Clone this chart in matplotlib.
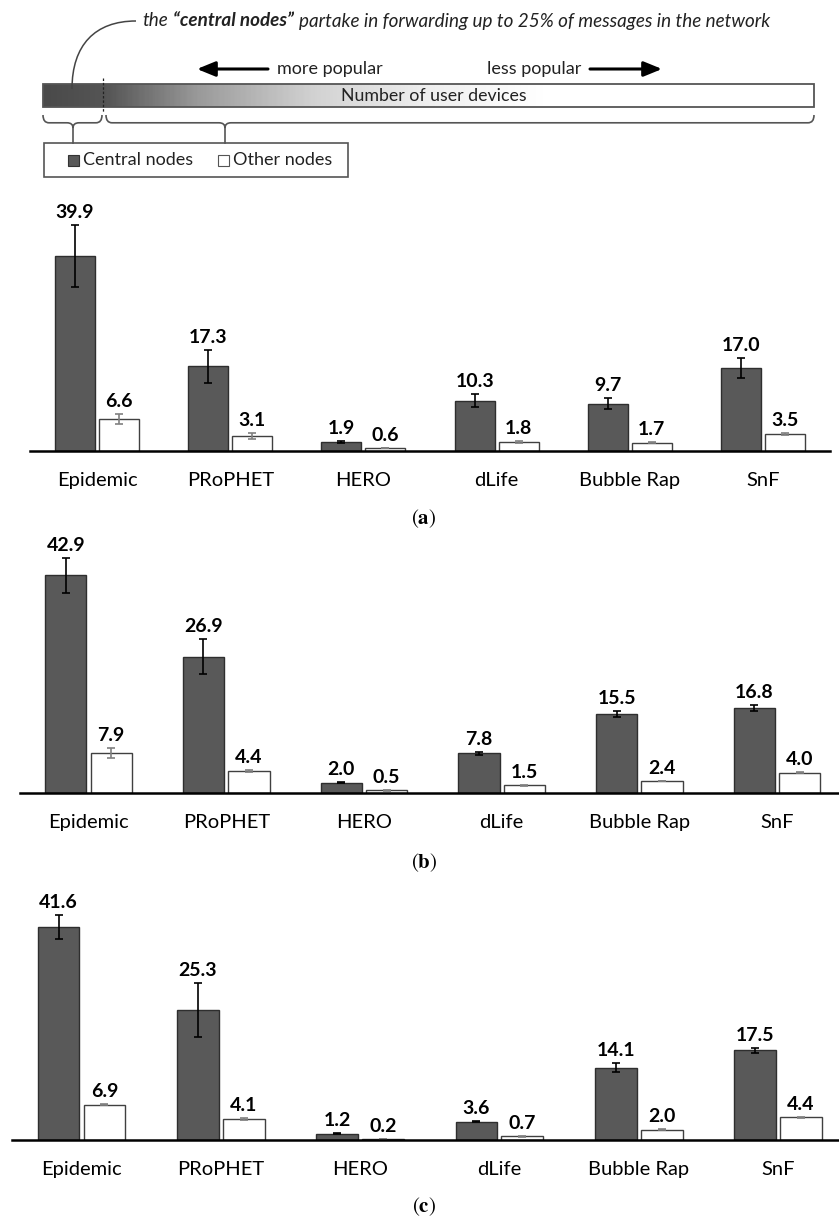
import matplotlib.pyplot as plt
import numpy as np
from matplotlib.patches import Rectangle, PathPatch
from matplotlib.path import Path
from matplotlib.colors import LinearSegmentedColormap

plt.rcParams['font.family'] = ['Lato', 'DejaVu Sans']
plt.rcParams['mathtext.fontset'] = 'stix'

# routing protocols on the x axis
protocols = ["Epidemic", "PRoPHET", "HERO", "dLife", "Bubble Rap", "SnF"]

# panel (a)
central_a = [39.9, 17.3, 1.9, 10.3, 9.7, 17.0]
central_a_err = [6.3, 3.3, 0.2, 1.4, 1.1, 2.0]
other_a = [6.6, 3.1, 0.6, 1.8, 1.7, 3.5]
other_a_err = [1.0, 0.55, 0.05, 0.15, 0.1, 0.2]

# panel (b)
central_b = [42.9, 26.9, 2.0, 7.8, 15.5, 16.8]
central_b_err = [3.4, 3.5, 0.1, 0.35, 0.6, 0.6]
other_b = [7.9, 4.4, 0.5, 1.5, 2.4, 4.0]
other_b_err = [0.9, 0.2, 0.05, 0.05, 0.05, 0.05]

# panel (c)
central_c = [41.6, 25.3, 1.2, 3.6, 14.1, 17.5]
central_c_err = [2.35, 5.3, 0.1, 0.1, 0.9, 0.5]
other_c = [6.9, 4.1, 0.2, 0.7, 2.0, 4.4]
other_c_err = [0.15, 0.15, 0.02, 0.02, 0.05, 0.05]

W, H = 839, 1222
fig = plt.figure(figsize=(W / 100, H / 100), dpi=100)

# ---------- header sketch (axes in pixel units) ----------
hx = fig.add_axes([0, 1 - 190 / H, 1, 190 / H])
hx.set_xlim(0, W)
hx.set_ylim(190, 0)
hx.axis('off')

fig.canvas.draw()
renderer = fig.canvas.get_renderer()

# note text, with the bold part in the middle
xpos = 142
parts = [("the", 'normal'), ("\u201ccentral nodes\u201d", 'bold'),
         ("partake in forwarding up to 25% of messages in the network", 'normal')]
for txt, wt in parts:
    t = hx.text(xpos, 21, txt, style='italic', fontweight=wt, fontsize=13.6,
                va='center', ha='left', color='#222222')
    bb = t.get_window_extent(renderer)
    xpos += bb.width + 5

# curved pointer from note to the bar
curve = Path([(136, 21), (95, 21), (72, 45), (72, 89)],
             [Path.MOVETO, Path.CURVE4, Path.CURVE4, Path.CURVE4])
hx.add_patch(PathPatch(curve, fill=False, ec='#444444', lw=1.1, zorder=4))

# arrows
arrow_kw = dict(arrowstyle='-|>,head_length=1.1,head_width=0.45', color='black',
                lw=2.2, shrinkA=0, shrinkB=0, mutation_scale=10)
hx.annotate('', xy=(197, 69), xytext=(268, 69), arrowprops=arrow_kw)
hx.annotate('', xy=(662, 69), xytext=(590, 69), arrowprops=arrow_kw)
hx.text(277, 69, "more popular", fontsize=13, va='center', ha='left', color='#222222')
hx.text(487, 69, "less popular", fontsize=13, va='center', ha='left', color='#222222')

# gradient bar
grad_cmap = LinearSegmentedColormap.from_list(
    'pop', [(0, '#4a4a4a'), (0.08, '#555555'), (0.2, '#9a9a9a'),
            (0.35, '#d2d2d2'), (0.5, '#efefef'), (0.65, '#ffffff'), (1, '#ffffff')])
hx.imshow(np.linspace(0, 1, 400)[None, :], cmap=grad_cmap, aspect='auto',
          extent=(43, 814, 107, 84), zorder=1)
hx.add_patch(Rectangle((43, 84), 771, 23, fill=False, ec='#555555', lw=1.3, zorder=2))
hx.plot([103, 103], [78, 112], color='#222222', lw=0.9, ls=(0, (2, 1.5)), zorder=3)
hx.text(434, 96, "Number of user devices", fontsize=12.8, va='center', ha='center',
        color='#222222', zorder=3)


def brace(x0, x1, xm, y, h):
    r = 6
    ym = y + h * 0.6
    verts = [(x0, y), (x0, ym), (x0 + r, ym), (xm - r, ym), (xm, ym), (xm, y + h),
             (xm, ym), (xm + r, ym), (x1 - r, ym), (x1, ym), (x1, y)]
    codes = [Path.MOVETO, Path.CURVE3, Path.CURVE3, Path.LINETO, Path.CURVE3, Path.CURVE3,
             Path.CURVE3, Path.CURVE3, Path.LINETO, Path.CURVE3, Path.CURVE3]
    hx.add_patch(PathPatch(Path(verts, codes), fill=False, ec='#555555', lw=1.2))
    hx.plot([xm, xm], [y + h, 143], color='#555555', lw=1.2)


brace(43, 102, 73, 115, 13)
brace(106, 814, 225, 115, 13)

# legend box
hx.add_patch(Rectangle((44, 143), 304, 34, fc='white', ec='#555555', lw=1.2))
hx.add_patch(Rectangle((68, 154.5), 11, 11, fc='#595959', ec='#333333', lw=0.8))
hx.text(83, 160, "Central nodes", fontsize=13, va='center', ha='left', color='#222222')
hx.add_patch(Rectangle((218, 154.5), 11, 11, fc='white', ec='#555555', lw=0.8))
hx.text(233, 160, "Other nodes", fontsize=13, va='center', ha='left', color='#222222')


# ---------- bar panels ----------
def panel(center0, step, base, scale, top, central, central_err, other, other_err,
          tag, tag_y):
    left = center0 - 0.5 * step
    ax = fig.add_axes([left / W, (H - base) / H, 6 * step / W, (base - top) / H])
    ax.set_xlim(-0.5, 5.5)
    ax.set_ylim(0, (base - top) / scale)
    x = np.arange(len(protocols))
    bw, off = 0.30, 0.165
    ax.bar(x - off, central, bw, color='#595959', edgecolor='#2e2e2e', lw=1,
           yerr=central_err,
           error_kw=dict(ecolor='black', elinewidth=1.2, capsize=3, capthick=1.2))
    ax.bar(x + off, other, bw, color='white', edgecolor='#404040', lw=1,
           yerr=other_err,
           error_kw=dict(ecolor='#808080', elinewidth=1.2, capsize=3, capthick=1.2))
    for xi, v, e in zip(x - off, central, central_err):
        ax.annotate(f'{v:.1f}', (xi, v + e), xytext=(0, 4), textcoords='offset pixels',
                    ha='center', va='bottom', fontsize=14, fontweight='bold')
    for xi, v, e in zip(x + off, other, other_err):
        ax.annotate(f'{v:.1f}', (xi, v + e), xytext=(0, 4), textcoords='offset pixels',
                    ha='center', va='bottom', fontsize=14, fontweight='bold')
    for sp in ['top', 'left', 'right']:
        ax.spines[sp].set_visible(False)
    ax.spines['bottom'].set_linewidth(1.8)
    ax.set_yticks([])
    ax.set_xticks(x, protocols, fontsize=14.5)
    ax.tick_params(axis='x', length=0, pad=15)
    ax.patch.set_alpha(0)
    fig.text(424 / W, 1 - tag_y / H, r'($\mathbf{' + tag + '}$)', family='STIXGeneral',
             fontsize=15, ha='center', va='center')


panel(97, 133.2, 451, 4.89, 200, central_a, central_a_err, other_a, other_a_err, 'a', 519)
panel(88.5, 137.7, 793, 5.07, 540, central_b, central_b_err, other_b, other_b_err, 'b', 863)
panel(81.5, 139.3, 1140, 5.13, 880, central_c, central_c_err, other_c, other_c_err, 'c', 1207)

plt.savefig("out.png", dpi=100)
